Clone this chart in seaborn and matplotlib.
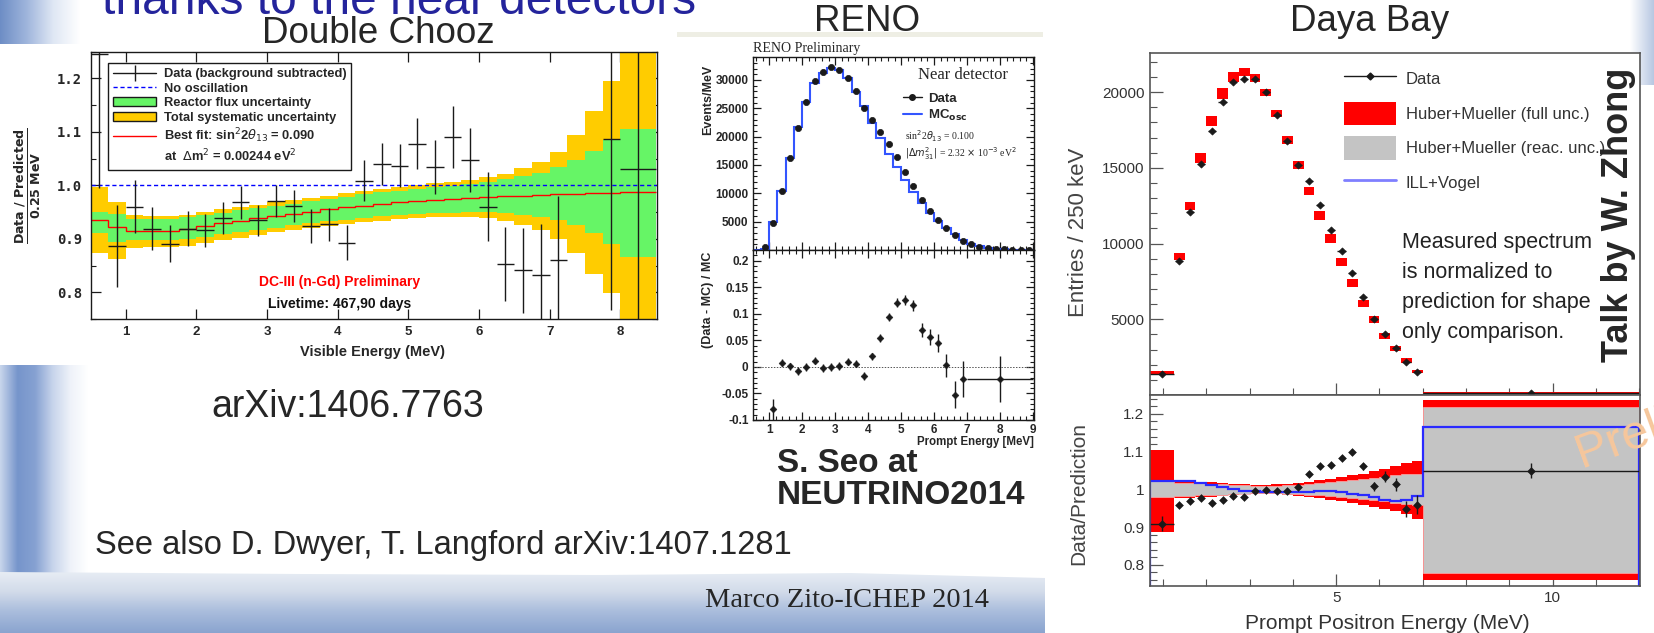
import numpy as np
import pandas as pd
import matplotlib
matplotlib.use("Agg")
import matplotlib.pyplot as plt
import seaborn as sns
from matplotlib.lines import Line2D
from matplotlib.patches import Patch, Polygon, Rectangle
from matplotlib.ticker import MultipleLocator, FixedLocator, FuncFormatter
from matplotlib.colors import LinearSegmentedColormap

# ---------------- Double Chooz ----------------
dc_x = [0.625, 0.875, 1.125, 1.375, 1.625, 1.875, 2.125, 2.375, 2.625, 2.875,
        3.125, 3.375, 3.625, 3.875, 4.125, 4.375, 4.625, 4.875, 5.125, 5.375,
        5.625, 5.875, 6.125, 6.375, 6.625, 6.875, 7.125, 7.875, 8.25]
dc_y = [1.245, 0.886, 0.960, 0.919, 0.891, 0.919, 0.916, 0.939, 0.968, 0.935,
        0.970, 0.961, 0.924, 0.927, 0.893, 1.009, 1.040, 1.037, 1.078, 1.034,
        1.090, 1.048, 0.960, 0.853, 0.841, 0.832, 0.860, 1.087, 1.030]
dc_yerr = [0.25, 0.077, 0.050, 0.040, 0.035, 0.033, 0.031, 0.030, 0.031, 0.029,
           0.030, 0.030, 0.031, 0.031, 0.033, 0.039, 0.040, 0.040, 0.048, 0.051,
           0.058, 0.060, 0.065, 0.070, 0.080, 0.095, 0.120, 0.320, 0.300]
dc_xerr = [0.125] * 28 + [0.25]
dc_edges = np.arange(0.5, 8.5001, 0.25)
dc_fit = [0.935, 0.922, 0.914, 0.914, 0.915, 0.919, 0.924, 0.929, 0.934, 0.939,
          0.943, 0.947, 0.951, 0.955, 0.959, 0.962, 0.965, 0.968, 0.971, 0.973,
          0.975, 0.977, 0.979, 0.980, 0.981, 0.982, 0.983, 0.984, 0.985, 0.986,
          0.987, 0.988]
dc_green_lo = [0.911, 0.894, 0.897, 0.897, 0.897, 0.900, 0.904, 0.909, 0.913, 0.917,
               0.921, 0.925, 0.929, 0.933, 0.936, 0.939, 0.942, 0.945, 0.947, 0.948,
               0.949, 0.950, 0.950, 0.948, 0.945, 0.941, 0.935, 0.925, 0.910, 0.890,
               0.866, 0.866]
dc_green_hi = [0.950, 0.947, 0.937, 0.937, 0.937, 0.940, 0.944, 0.949, 0.953, 0.958,
               0.962, 0.966, 0.970, 0.974, 0.979, 0.983, 0.987, 0.990, 0.993, 0.996,
               0.999, 1.002, 1.006, 1.011, 1.017, 1.024, 1.035, 1.048, 1.065, 1.085,
               1.106, 1.106]
dc_yellow_lo = [0.873, 0.863, 0.882, 0.884, 0.884, 0.887, 0.892, 0.897, 0.902, 0.907,
                0.912, 0.916, 0.920, 0.924, 0.928, 0.931, 0.934, 0.937, 0.939, 0.940,
                0.941, 0.941, 0.938, 0.934, 0.926, 0.916, 0.900, 0.873, 0.835, 0.798,
                0.700, 0.700]
dc_yellow_hi = [0.997, 0.969, 0.944, 0.942, 0.942, 0.945, 0.950, 0.955, 0.960, 0.964,
                0.968, 0.972, 0.976, 0.980, 0.985, 0.989, 0.993, 0.997, 1.001, 1.004,
                1.007, 1.010, 1.015, 1.022, 1.032, 1.044, 1.062, 1.095, 1.140, 1.196,
                1.300, 1.300]

# ---------------- RENO ----------------
reno_edges = np.arange(0.5, 9.0001, 0.25)
reno_mc = [0, 100, 5000, 10470, 16180, 21650, 26180, 29530, 31180, 32060,
           31760, 30410, 27940, 25400, 22470, 19820, 16940, 14590, 12350, 10180,
           8240, 6590, 5120, 3940, 2760, 1760, 1120, 650, 350, 180,
           120, 80, 60, 50]
reno_x = np.arange(0.875, 8.9, 0.25)
reno_data = [470, 4760, 10400, 16180, 21470, 26180, 29880, 31350, 32230, 31760,
             30410, 28120, 25000, 22940, 20760, 18700, 16350, 13820, 11350, 8820,
             6940, 5290, 3820, 2650, 1650, 1060, 590, 290, 180, 120,
             80, 60, 50]
reno_rx = [1.125, 1.375, 1.625, 1.875, 2.125, 2.375, 2.625, 2.875, 3.125, 3.375,
           3.625, 3.875, 4.125, 4.375, 4.625, 4.875, 5.125, 5.375, 5.625, 5.875,
           6.125, 6.375, 6.625, 6.875, 8.0]
reno_ratio = [-0.080, 0.008, 0.001, -0.008, 0.000, 0.012, -0.002, 0.000, 0.002, 0.010,
              0.006, -0.017, 0.020, 0.054, 0.094, 0.121, 0.126, 0.116, 0.070, 0.056,
              0.045, 0.003, -0.052, -0.023, -0.023]
reno_ratio_err = [0.020, 0.007, 0.007, 0.007, 0.007, 0.007, 0.007, 0.007, 0.007, 0.007,
                  0.007, 0.007, 0.007, 0.007, 0.008, 0.009, 0.010, 0.010, 0.013, 0.015,
                  0.017, 0.022, 0.026, 0.034, 0.043]
reno_ratio_xerr = [0.0] * 24 + [1.0]

# ---------------- Daya Bay ----------------
db_edges = np.concatenate([[0.7], np.arange(1.25, 7.0001, 0.25), [12.0]])
db_x = [0.975, 1.375, 1.625, 1.875, 2.125, 2.375, 2.625, 2.875, 3.125, 3.375,
        3.625, 3.875, 4.125, 4.375, 4.625, 4.875, 5.125, 5.375, 5.625, 5.875,
        6.125, 6.375, 6.625, 6.875, 9.5]
db_counts = [1400, 8830, 12110, 15240, 17430, 19340, 20650, 20870, 20870, 19990,
             18460, 16780, 15180, 14150, 12570, 10910, 9500, 8060, 6480, 4990,
             4030, 3090, 2150, 1490, 150]
db_pred = [1450, 9150, 12500, 15640, 18090, 19900, 21000, 21330, 20940, 19990,
           18590, 16840, 15180, 13490, 11850, 10310, 8780, 7360, 6040, 4990,
           3900, 3050, 2260, 1550, 140]
db_ratio = [0.909, 0.959, 0.970, 0.976, 0.963, 0.973, 0.982, 0.981, 0.995, 0.999,
            0.995, 0.995, 1.006, 1.042, 1.061, 1.064, 1.084, 1.100, 1.061, 1.008,
            1.034, 1.013, 0.948, 0.959, 1.049]
db_ratio_err = [0.020, 0.006, 0.005, 0.005, 0.005, 0.005, 0.005, 0.005, 0.005, 0.005,
                0.005, 0.005, 0.006, 0.006, 0.006, 0.007, 0.007, 0.008, 0.009, 0.012,
                0.015, 0.017, 0.020, 0.025, 0.020]
db_red_lo = [0.888, 0.977, 0.978, 0.980, 0.981, 0.983, 0.985, 0.987, 0.988, 0.988,
             0.987, 0.985, 0.983, 0.980, 0.977, 0.973, 0.969, 0.965, 0.960, 0.954,
             0.948, 0.942, 0.934, 0.922, 0.760]
db_red_hi = [1.105, 1.022, 1.021, 1.020, 1.019, 1.017, 1.015, 1.013, 1.012, 1.012,
             1.013, 1.015, 1.017, 1.020, 1.024, 1.028, 1.032, 1.037, 1.042, 1.048,
             1.055, 1.062, 1.070, 1.075, 1.238]
db_gray_lo = [0.981, 0.982, 0.983, 0.984, 0.985, 0.986, 0.988, 0.989, 0.990, 0.990,
              0.990, 0.989, 0.988, 0.986, 0.984, 0.982, 0.980, 0.977, 0.975, 0.972,
              0.968, 0.965, 0.962, 0.958, 0.779]
db_gray_hi = [1.021, 1.018, 1.017, 1.016, 1.015, 1.014, 1.012, 1.011, 1.010, 1.010,
              1.010, 1.011, 1.012, 1.014, 1.016, 1.019, 1.021, 1.024, 1.027, 1.030,
              1.034, 1.037, 1.040, 1.042, 1.218]
db_ill = [1.022, 1.022, 1.021, 1.018, 1.012, 1.006, 1.000, 0.997, 0.995, 0.993,
          0.992, 0.992, 0.993, 0.994, 0.995, 0.995, 0.992, 0.988, 0.985, 0.981,
          0.972, 0.970, 0.973, 0.983, 1.165]

# ---------------- figure ----------------
sns.set_theme(style="white")
plt.rcParams["font.family"] = ["Liberation Sans", "DejaVu Sans"]
plt.rcParams["axes.linewidth"] = 1.0

W, H = 1654, 633
fig = plt.figure(figsize=(W / 100, H / 100), dpi=100)
fig.patch.set_facecolor("white")


def fa(left, top, right, bottom):
    return [left / W, 1 - bottom / H, (right - left) / W, (bottom - top) / H]


def ft(x, y, s, **kw):
    return fig.text(x / W, 1 - y / H, s, **kw)


# background slide decorations
bg = fig.add_axes([0, 0, 1, 1], zorder=-10)


def gradient(ax, x0, x1, y0, y1, colors, horizontal=True, clip=None):
    cmap = LinearSegmentedColormap.from_list("g", colors)
    arr = np.linspace(0, 1, 256)
    img = arr[None, :] if horizontal else arr[:, None]
    im = ax.imshow(img, cmap=cmap, extent=(x0, x1, y1, y0), aspect="auto",
                   interpolation="bicubic")
    if clip is not None:
        im.set_clip_path(clip)


gradient(bg, 0, 80, 0, 44, ["#6d8dc5", "#9fb5dc", "#dfe7f4", "#ffffff"])
gradient(bg, 0, 88, 365, 600, ["#c9d6ec", "#7695cb", "#86a1d2", "#c7d4eb", "#eef2f9", "#ffffff"])
band = Polygon([(0, 572), (300, 574), (600, 575), (850, 573), (1045, 578),
                (1045, 633), (0, 633)], closed=True,
               transform=bg.transData, facecolor="none", edgecolor="none")
bg.add_patch(band)
gradient(bg, 0, 1045, 570, 633, ["#e9eef5", "#d3dcea", "#a9bcdc", "#8aa4cf"],
         horizontal=False, clip=band)
gradient(bg, 1630, 1654, 0, 85, ["#ffffff", "#b7c7e2"])
bg.add_patch(Rectangle((677, 32), 366, 5, facecolor="#eeeee4", edgecolor="none"))
bg.set_xlim(0, W)
bg.set_ylim(H, 0)
bg.axis("off")

# slide texts
ft(102, 14, "thanks to the near detectors", fontsize=34.5, color="#24249c", va="baseline")
ft(378, 43, "Double Chooz", fontsize=26.5, ha="center", va="baseline")
ft(867, 31, "RENO", fontsize=26.5, ha="center", va="baseline")
ft(1370, 31, "Daya Bay", fontsize=26.5, ha="center", va="baseline")
ft(348, 417, "arXiv:1406.7763", fontsize=27, ha="center", va="baseline")
ft(95, 554, "See also D. Dwyer, T. Langford arXiv:1407.1281", fontsize=23.5, va="baseline")
ft(705, 607, "Marco Zito-ICHEP 2014", fontsize=20.5, va="baseline",
   family=["Liberation Serif", "DejaVu Serif"])
ft(777, 472, "S. Seo at", fontsize=24, weight="bold", va="baseline")
ft(777, 504, "NEUTRINO2014", fontsize=24, weight="bold", va="baseline")


def root_axes(ax, color="k", top=True, right=True, lw=1.0):
    for s in ax.spines.values():
        s.set_visible(True)
        s.set_color(color)
        s.set_linewidth(lw)
    ax.tick_params(which="both", direction="in", top=top, right=right,
                   bottom=True, left=True, color=color)
    ax.tick_params(which="major", length=7, width=0.9)
    ax.tick_params(which="minor", length=3.5, width=0.8)
    ax.grid(False)
    ax.set_facecolor("white")


# ================= Double Chooz =================
ax1 = fig.add_axes(fa(90.5, 51.7, 657, 319))
root_axes(ax1)
ax1.stairs(dc_yellow_hi, dc_edges, baseline=dc_yellow_lo, fill=True, color="#ffcc00", lw=0)
ax1.stairs(dc_green_hi, dc_edges, baseline=dc_green_lo, fill=True, color="#66f566", lw=0)
ax1.stairs(dc_fit, dc_edges, baseline=None, color="#ff0000", lw=1.0)
ax1.axhline(1.0, color="#0000ff", lw=1.0, ls=(0, (3, 2)))
ax1.errorbar(dc_x, dc_y, yerr=dc_yerr, xerr=dc_xerr, fmt="none", ecolor="k",
             elinewidth=1.0)
ax1.set_xlim(0.5, 8.52)
ax1.set_ylim(0.75, 1.25)
ax1.xaxis.set_major_locator(MultipleLocator(1))
ax1.yaxis.set_major_locator(MultipleLocator(0.1))
ax1.yaxis.set_minor_locator(MultipleLocator(0.05))
ax1.yaxis.set_major_formatter(FuncFormatter(lambda v, p: f"{v:.1f}"))
ax1.tick_params(axis="x", labelsize=9.5, pad=5)
ax1.tick_params(axis="y", labelsize=10, pad=6)
for lab in ax1.get_yticklabels():
    lab.set_family(["DejaVu Sans Mono"])
    lab.set_fontweight("bold")
for lab in ax1.get_xticklabels():
    lab.set_fontweight("bold")
ax1.set_xlabel("Visible Energy (MeV)", fontsize=10.5, weight="bold")
ax1.xaxis.label.set_va("center")
ax1.xaxis.set_label_coords(0.497, -0.122)
ax1.set_ylabel(r"$\frac{\mathbf{Data\ /\ Predicted}}{\mathbf{0.25\ MeV}}$", fontsize=13)
ax1.yaxis.label.set_va("center")
ax1.yaxis.set_label_coords(-0.11, 0.5)
dc_handles = [Line2D([0], [0], color="k", lw=1, marker="|", markersize=11, mew=1),
              Line2D([0], [0], color="#0000ff", lw=1, ls=(0, (3, 2))),
              Patch(facecolor="#66f566", edgecolor="k", lw=1),
              Patch(facecolor="#ffcc00", edgecolor="k", lw=1),
              Line2D([0], [0], color="#ff0000", lw=1),
              Line2D([], [], color="none")]
dc_labels = ["Data (background subtracted)", "No oscillation", "Reactor flux uncertainty",
             "Total systematic uncertainty", r"Best fit: sin$^2$2$\theta_{13}$ = 0.090",
             r"at  $\Delta$m$^2$ = 0.00244 eV$^2$"]
leg1 = ax1.legend(dc_handles, dc_labels, loc="upper left", bbox_to_anchor=(0.031, 0.958),
                  borderaxespad=0, frameon=True, fancybox=False, edgecolor="k",
                  framealpha=1, prop={"weight": "bold", "size": 9.3}, handlelength=3.3,
                  handletextpad=0.6, labelspacing=0.2, borderpad=0.4)
leg1.get_frame().set_linewidth(1.0)
ax1.text(4.02, 0.819, "DC-III (n-Gd) Preliminary", color="#ff0000", weight="bold",
         fontsize=10, ha="center", va="center")
ax1.text(4.02, 0.778, "Livetime: 467,90 days", color="#111111", weight="bold",
         fontsize=10, ha="center", va="center")

# ================= RENO =================
ax2 = fig.add_axes(fa(752.7, 56.7, 1034, 250))
ax3 = fig.add_axes(fa(752.7, 250, 1034, 420))
for a in (ax2, ax3):
    root_axes(a)
    a.set_xlim(0.5, 9.03)
    a.xaxis.set_major_locator(MultipleLocator(1))
    a.xaxis.set_minor_locator(MultipleLocator(0.2))
    a.tick_params(which="major", length=6)
    a.tick_params(which="minor", length=3)
ax2.stairs(reno_mc, reno_edges, color="#3355ff", lw=1.5)
reno_df = pd.DataFrame({"E": reno_x, "N": reno_data})
sns.scatterplot(data=reno_df, x="E", y="N", ax=ax2, color="k", s=20, edgecolor="k",
                linewidth=0.5, legend=False, zorder=5)
ax2.set_ylim(0, 34100)
ax2.yaxis.set_major_locator(FixedLocator([5000, 10000, 15000, 20000, 25000, 30000]))
ax2.yaxis.set_minor_locator(MultipleLocator(1000))
ax2.tick_params(axis="x", labelbottom=False)
ax2.tick_params(axis="y", labelsize=8.5, pad=3)
for lab in ax2.get_yticklabels():
    lab.set_fontweight("bold")
ax2.set_xlabel("")
ax2.set_ylabel("Events/MeV", fontsize=9, weight="bold")
ax2.yaxis.label.set_va("center")
ax2.yaxis.set_label_coords(-0.159, 0.776)
ax2.text(0.0, 1.01, "RENO Preliminary", transform=ax2.transAxes, fontsize=10,
         family=["Liberation Serif", "DejaVu Serif"], va="bottom", ha="left")
ax2.text(0.746, 0.905, "Near detector", transform=ax2.transAxes, fontsize=12,
         family=["Liberation Serif", "DejaVu Serif"], ha="center", va="center")
reno_handles = [Line2D([0], [0], color="k", lw=1, marker="o", markersize=4),
                Line2D([0], [0], color="#3355ff", lw=1.5)]
ax2.legend(reno_handles, ["Data", r"MC$_{\mathbf{osc}}$"], loc="upper left",
           bbox_to_anchor=(0.535, 0.815), borderaxespad=0, borderpad=0, frameon=False,
           prop={"weight": "bold", "size": 9.5}, handlelength=1.4, handletextpad=0.5,
           labelspacing=0.25)
ax2.text(0.54, 0.59, r"sin$^2$2$\theta_{13}$ = 0.100", transform=ax2.transAxes,
         fontsize=7, family=["Liberation Serif", "DejaVu Serif"], va="center")
ax2.text(0.54, 0.50, r"$|\Delta m^2_{31}|$ = 2.32 $\times$ 10$^{-3}$ eV$^2$",
         transform=ax2.transAxes, fontsize=7, family=["Liberation Serif", "DejaVu Serif"],
         va="center")

ax3.axhline(0.0, color="#555555", lw=0.7, ls=(0, (1.5, 1.5)))
ax3.errorbar(reno_rx, reno_ratio, yerr=reno_ratio_err, xerr=reno_ratio_xerr, fmt="none",
             ecolor="k", elinewidth=1.0)
ratio_df = pd.DataFrame({"E": reno_rx, "R": reno_ratio})
sns.scatterplot(data=ratio_df, x="E", y="R", ax=ax3, color="k", s=12, edgecolor="k",
                linewidth=0.4, legend=False, zorder=5, marker="D")
ax3.set_ylim(-0.1, 0.22)
ax3.yaxis.set_major_locator(MultipleLocator(0.05))
ax3.yaxis.set_minor_locator(MultipleLocator(0.01))
ax3.yaxis.set_major_formatter(FuncFormatter(lambda v, p: f"{v:g}" if abs(v) > 1e-9 else "0"))
ax3.tick_params(axis="both", labelsize=8.5)
ax3.tick_params(axis="x", pad=3)
ax3.tick_params(axis="y", pad=3)
for lab in ax3.get_xticklabels() + ax3.get_yticklabels():
    lab.set_fontweight("bold")
ax3.set_xlabel("Prompt Energy [MeV]", fontsize=8.3, weight="bold")
ax3.xaxis.label.set_ha("right")
ax3.xaxis.label.set_va("center")
ax3.xaxis.set_label_coords(1.0, -0.13)
ax3.set_ylabel("(Data - MC) / MC", fontsize=9, weight="bold")
ax3.yaxis.label.set_va("center")
ax3.yaxis.set_label_coords(-0.16, 0.706)

# ================= Daya Bay =================
ax4 = fig.add_axes(fa(1150, 52.7, 1640, 395))
ax5 = fig.add_axes(fa(1150, 395, 1640, 585.7))
for a in (ax4, ax5):
    root_axes(a, color="#555555", top=False, right=False, lw=1.2)
    a.set_xlim(0.7, 12.02)
    a.xaxis.set_major_locator(MultipleLocator(5))
    a.xaxis.set_minor_locator(MultipleLocator(1))
    a.tick_params(which="major", length=9)
    a.tick_params(which="minor", length=5)
    a.tick_params(axis="both", labelsize=11, labelcolor="#333333", pad=4)
db_lo_pred = [p * r for p, r in zip(db_pred, db_red_lo)]
db_hi_pred = [p * r for p, r in zip(db_pred, db_red_hi)]
ax4.stairs(db_hi_pred, db_edges, baseline=db_lo_pred, fill=True, color="#ff0000", lw=0)
db_half = np.diff(db_edges) / 2
ax4.errorbar(db_x, db_counts, xerr=db_half * np.r_[1.0, [0.75] * 23, 1.0], fmt="none",
             ecolor="k", elinewidth=1.0)
db_df = pd.DataFrame({"E": db_x, "N": db_counts, "R": db_ratio})
sns.scatterplot(data=db_df, x="E", y="N", ax=ax4, color="k", s=14, edgecolor="k",
                linewidth=0.4, legend=False, zorder=5, marker="D")
ax4.set_ylim(0, 22600)
ax4.yaxis.set_major_locator(FixedLocator([5000, 10000, 15000, 20000]))
ax4.yaxis.set_minor_locator(MultipleLocator(1000))
ax4.tick_params(axis="x", labelbottom=False)
ax4.set_xlabel("")
ax4.set_ylabel("Entries / 250 keV", fontsize=16, color="#444444")
ax4.yaxis.label.set_va("center")
ax4.yaxis.set_label_coords(-0.145, 0.476)
db_handles = [Line2D([0], [0], color="k", lw=1, marker="D", markersize=3.5),
              Patch(facecolor="#ff0000", edgecolor="none"),
              Patch(facecolor="#c4c4c4", edgecolor="none"),
              Line2D([0], [0], color="#7f7fff", lw=2)]
ax4.legend(db_handles, ["Data", "Huber+Mueller (full unc.)", "Huber+Mueller (reac. unc.)",
                        "ILL+Vogel"], loc="upper left", bbox_to_anchor=(0.396, 0.958),
           borderaxespad=0, borderpad=0, frameon=False, fontsize=12, handlelength=3.1,
           handleheight=1.75, labelspacing=0.7, handletextpad=0.6, labelcolor="#333333")
ax4.text(0.514, 0.475, "Measured spectrum\nis normalized to\nprediction for shape\nonly comparison.",
         transform=ax4.transAxes, fontsize=15.5, va="top", ha="left", linespacing=1.55,
         color="#222222")

ax5.stairs(db_red_hi, db_edges, baseline=db_red_lo, fill=True, color="#ff0000", lw=0)
ax5.stairs(db_gray_hi, db_edges, baseline=db_gray_lo, fill=True, facecolor="#c4c4c4",
           edgecolor="#ffaaaa", lw=0.5)
ax5.stairs(db_ill, db_edges, color="#2a2aff", lw=1.6)
ax5.errorbar(db_x, db_ratio, yerr=db_ratio_err, xerr=db_half * np.r_[1.0, [0.0] * 23, 1.0],
             fmt="none", ecolor="k", elinewidth=1.0)
sns.scatterplot(data=db_df, x="E", y="R", ax=ax5, color="k", s=16, edgecolor="k",
                linewidth=0.4, legend=False, zorder=5, marker="D")
ax5.set_ylim(0.745, 1.25)
ax5.yaxis.set_major_locator(MultipleLocator(0.1))
ax5.yaxis.set_minor_locator(MultipleLocator(0.02))
ax5.yaxis.set_major_formatter(FuncFormatter(lambda v, p: f"{v:g}"))
ax5.set_xlabel("Prompt Positron Energy (MeV)", fontsize=15, color="#333333")
ax5.xaxis.label.set_va("center")
ax5.xaxis.set_label_coords(0.484, -0.196)
ax5.set_ylabel("Data/Prediction", fontsize=15, color="#444444")
ax5.yaxis.label.set_va("center")
ax5.yaxis.set_label_coords(-0.145, 0.481)

ft(1619, 215, "Talk by W. Zhong", fontsize=26, weight="bold", rotation=90,
   ha="center", va="center")
ft(1582, 468, "Preliminary", fontsize=35, color="#f6c79c", rotation=20,
   rotation_mode="anchor", ha="left", va="baseline")

fig.savefig("out.png", dpi=100)
